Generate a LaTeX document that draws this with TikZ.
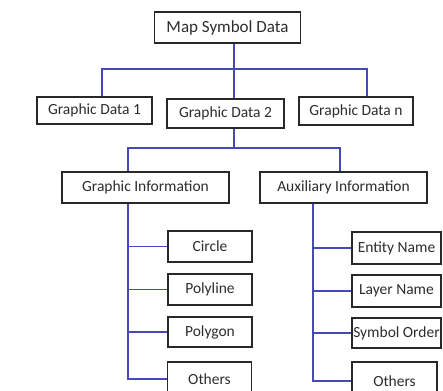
\documentclass[tikz,border=0pt]{standalone}
\usepackage{fontspec}
\setmainfont{Carlito}
\definecolor{linkblue}{RGB}{72,72,182}
\definecolor{boxline}{RGB}{40,40,40}
\definecolor{txt}{RGB}{45,45,45}
\begin{document}
\begin{tikzpicture}[x=1pt,y=-1pt,
  box/.style={draw=boxline,line width=1.3pt,fill=white,inner sep=0pt,text=txt,
    font=\fontsize{15.5}{18}\selectfont},
  link/.style={draw=linkblue,line width=1.3pt}]
\useasboundingbox (0,0) rectangle (443,390);
\clip (0,0) rectangle (443,390);
\fill[white] (0,0) rectangle (443,390);

% nodes
\node[box,minimum width=146pt,minimum height=31pt,font=\fontsize{17}{20}\selectfont] (map) at (227.5,27.5) {Map Symbol Data};
\node[box,minimum width=115pt,minimum height=27pt] (gd1) at (94.5,110.5) {Graphic Data 1};
\node[box,minimum width=117pt,minimum height=29pt] (gd2) at (225.5,113.5) {Graphic Data 2};
\node[box,minimum width=114pt,minimum height=28pt] (gdn) at (356,111) {Graphic Data n};
\node[box,minimum width=167pt,minimum height=31pt] (gi) at (145.5,187.5) {Graphic Information};
\node[box,minimum width=167pt,minimum height=31pt] (ai) at (343.5,187.5) {Auxiliary Information};
\node[box,minimum width=84pt,minimum height=31pt] (circ) at (210,246.5) {Circle};
\node[box,minimum width=84pt,minimum height=31pt] (polyl) at (210,289.5) {Polyline};
\node[box,minimum width=84pt,minimum height=30pt] (polyg) at (210,332) {Polygon};
\node[box,minimum width=84pt,minimum height=34pt] (othl) at (209.5,379) {Others};
\node[box,minimum width=89pt,minimum height=32pt] (ent) at (396.5,248) {Entity Name};
\node[box,minimum width=89pt,minimum height=32pt] (lay) at (396.5,291) {Layer Name};
\node[box,minimum width=89pt,minimum height=30pt] (sym) at (396.5,333) {Symbol Order};
\node[box,minimum width=85pt,minimum height=38pt] (othr) at (394.5,381) {Others};

% junction points
\coordinate (h1l) at (102,69);
\coordinate (h1m) at (234,69);
\coordinate (h1r) at (367,69);
\coordinate (h2l) at (128,148);
\coordinate (h2m) at (234,148);
\coordinate (h2r) at (340,148);
\coordinate (tl) at (128,203);
\coordinate (tr) at (313,203);

% connectors
\draw[link] (map.south -| h1m) -- (gd2.north -| h1m);
\draw[link] (gd1.north -| h1l) -- (h1l) -- (h1r) -- (gdn.north -| h1r);
\draw[link] (gd2.south -| h2m) -- (h2m);
\draw[link] (gi.north -| h2l) -- (h2l) -- (h2r) -- (ai.north -| h2r);
\draw[link] (gi.south -| tl) |- (othl.west);
\draw[link] (circ.west) -- (circ.west -| tl);
\draw[link] (polyl.west) -- (polyl.west -| tl);
\draw[link] (polyg.west) -- (polyg.west -| tl);
\draw[link] (ai.south -| tr) |- (othr.west);
\draw[link] (ent.west) -- (ent.west -| tr);
\draw[link] (lay.west) -- (lay.west -| tr);
\draw[link] (sym.west) -- (sym.west -| tr);
\end{tikzpicture}
\end{document}
